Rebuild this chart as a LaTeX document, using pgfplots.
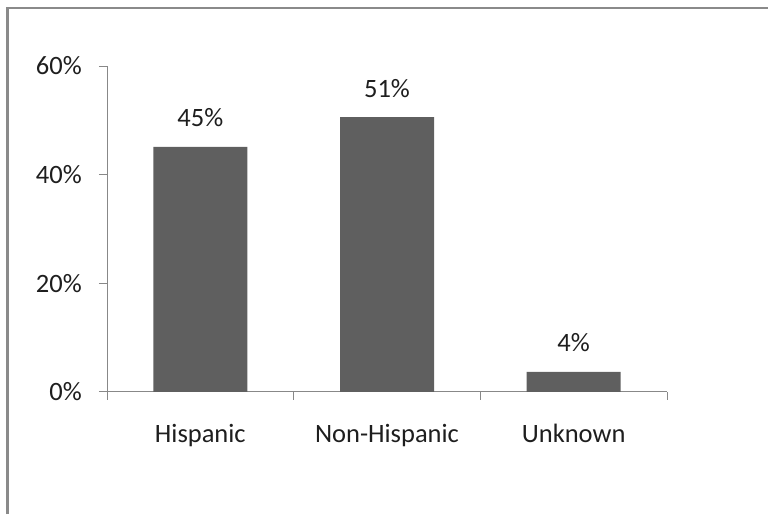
\documentclass[border=0pt]{standalone}
\usepackage{pgfplots}
\pgfplotsset{compat=1.18}
\usepackage{fontspec}
\setmainfont{Carlito}
\definecolor{barc}{HTML}{5F5F5F}
\definecolor{axc}{HTML}{888888}
\definecolor{framec}{HTML}{8A8A8A}
\definecolor{txtc}{HTML}{1E1E1E}
\begin{document}
\begin{tikzpicture}[x=1pt,y=1pt]
\useasboundingbox (0,0) rectangle (768,514);
\draw[framec, line width=2.6pt] (7.5,0) -- (7.5,506) -- (768,506);
\begin{axis}[
  at={(107pt,122pt)}, anchor=south west,
  scale only axis, width=560pt, height=326pt,
  xmin=-0.5, xmax=2.5, ymin=0, ymax=60,
  axis lines*=left,
  axis line style={axc, line width=1pt},
  ybar, bar width=94pt, bar shift=0pt,
  xtick={-0.5,0.5,1.5,2.5},
  xticklabels={},
  extra x ticks={0,1,2},
  extra x tick labels={Hispanic,Non-Hispanic,Unknown},
  extra x tick style={major tick length=0pt, tick style={draw=none}},
  ytick={0,20,40,60},
  yticklabel={\pgfmathprintnumber{\tick}\%},
  tick align=outside,
  major tick length=8pt,
  tick style={axc, line width=1pt},
  tick label style={font=\fontsize{26.5}{31}\selectfont, text=txtc, inner sep=0pt},
  /pgf/number format/assume math mode=true,
  xticklabel style={anchor=base, yshift=-51pt},
  yticklabel style={anchor=east, xshift=-17pt},
  nodes near coords,
  point meta=explicit symbolic,
  every node near coord/.append style={font=\fontsize{26.5}{31}\selectfont, text=txtc, inner sep=0pt, anchor=base, yshift=20pt},
  clip=false,
]
\addplot[fill=barc, draw=none] coordinates {(0,45.1) [45\%] (1,50.6) [51\%] (2,3.7) [4\%]};
\end{axis}
\end{tikzpicture}
\end{document}
